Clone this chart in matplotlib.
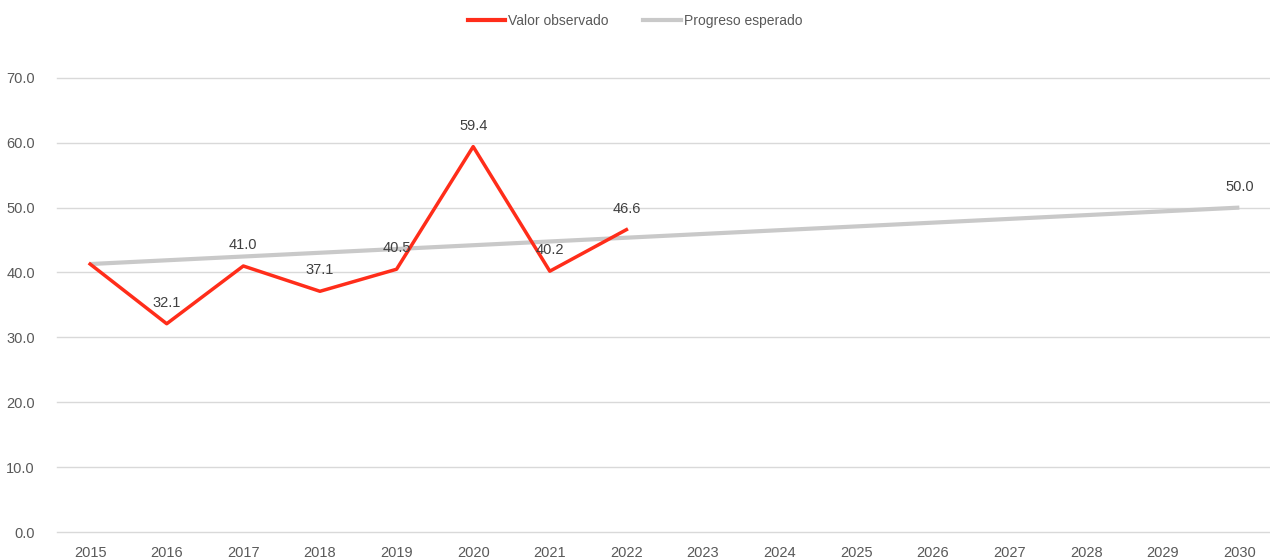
import matplotlib
matplotlib.use("Agg")
from matplotlib import pyplot as plt
from matplotlib.lines import Line2D

# data
years = list(range(2015, 2031))
obs_years = [2015, 2016, 2017, 2018, 2019, 2020, 2021, 2022]
obs_values = [41.3, 32.1, 41.0, 37.1, 40.5, 59.4, 40.2, 46.6]
obs_labels = [None, "32.1", "41.0", "37.1", "40.5", "59.4", "40.2", "46.6"]
exp_years = [2015, 2030]
exp_values = [41.3, 50.0]
yticks = [0, 10, 20, 30, 40, 50, 60, 70]

plt.rcParams['font.family'] = ['Liberation Sans Narrow', 'Liberation Sans', 'DejaVu Sans']

RED = '#ff2d1a'
GRAY = '#c9c9c9'
TXT = '#595959'

fig = plt.figure(figsize=(12.7, 5.6), dpi=100)
ax = fig.add_axes([0.045, 0.05, 0.955, 0.811])

ax.plot(exp_years, exp_values, color=GRAY, lw=3, solid_capstyle='butt', zorder=2)
ax.plot(obs_years, obs_values, color=RED, lw=2.5, zorder=3)

for x, v, lab in zip(obs_years, obs_values, obs_labels):
    if lab:
        ax.annotate(lab, (x, v), xytext=(0, 10), textcoords='offset points',
                    ha='center', va='bottom', fontsize=10.5, color='#404040')
ax.annotate("50.0", (exp_years[-1], exp_values[-1]), xytext=(0, 10),
            textcoords='offset points', ha='center', va='bottom',
            fontsize=10.5, color='#404040')

ax.set_xlim(2014.57, 2030.4)
ax.set_ylim(0, 70)
ax.set_xticks(years)
ax.set_yticks(yticks)
ax.set_yticklabels([f"{t:.1f}" for t in yticks])
ax.tick_params(length=0, colors=TXT, labelsize=10.5)
ax.tick_params(axis='y', pad=16)
ax.tick_params(axis='x', pad=10)
ax.grid(axis='y', color='#d9d9d9', lw=1)
for gl in ax.get_ygridlines():
    gl.set_clip_on(False)
ax.set_axisbelow(True)
for s in ax.spines.values():
    s.set_visible(False)

handles = [Line2D([], [], color=RED, lw=3), Line2D([], [], color=GRAY, lw=3)]
fig.legend(handles, ["Valor observado", "Progreso esperado"], loc='center',
           bbox_to_anchor=(0.5, 0.963), ncol=2, frameon=False, fontsize=10,
           handlelength=2.7, handletextpad=0.2, columnspacing=2.5,
           labelcolor=TXT)

fig.savefig("out.png", dpi=100, facecolor='white')
